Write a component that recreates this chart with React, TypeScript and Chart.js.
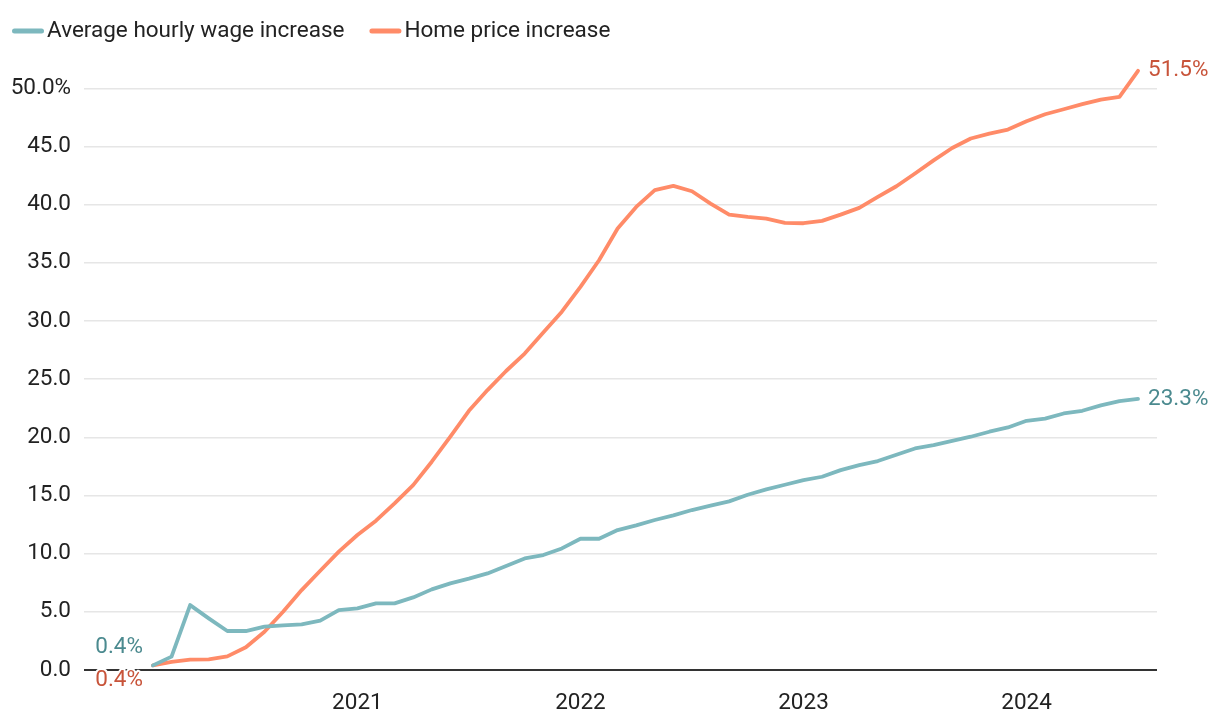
import { useEffect, useRef } from 'react';
import { Chart, registerables } from 'chart.js';

Chart.register(...registerables);

const months = [
  '2020-02', '2020-03', '2020-04', '2020-05', '2020-06', '2020-07', '2020-08', '2020-09', '2020-10', '2020-11', '2020-12',
  '2021-01', '2021-02', '2021-03', '2021-04', '2021-05', '2021-06', '2021-07', '2021-08', '2021-09', '2021-10', '2021-11', '2021-12',
  '2022-01', '2022-02', '2022-03', '2022-04', '2022-05', '2022-06', '2022-07', '2022-08', '2022-09', '2022-10', '2022-11', '2022-12',
  '2023-01', '2023-02', '2023-03', '2023-04', '2023-05', '2023-06', '2023-07', '2023-08', '2023-09', '2023-10', '2023-11', '2023-12',
  '2024-01', '2024-02', '2024-03', '2024-04', '2024-05', '2024-06', '2024-07',
];

const seriesNames = ['Average hourly wage increase', 'Home price increase'];

const wage = [
  0.4, 1.15, 5.58, 4.44, 3.35, 3.35, 3.72, 3.84, 3.92, 4.24, 5.15,
  5.3, 5.73, 5.73, 6.24, 6.93, 7.45, 7.85, 8.3, 8.93, 9.59, 9.88, 10.45,
  11.28, 11.28, 12.03, 12.43, 12.89, 13.29, 13.75, 14.12, 14.49, 15.06, 15.52, 15.92,
  16.32, 16.61, 17.18, 17.61, 17.96, 18.5, 19.04, 19.33, 19.7, 20.05, 20.48, 20.85,
  21.42, 21.6, 22.05, 22.28, 22.74, 23.11, 23.3,
];

const home = [
  0.4, 0.69, 0.89, 0.92, 1.17, 1.95, 3.29, 5.01, 6.87, 8.53, 10.17,
  11.6, 12.83, 14.32, 15.89, 17.9, 20.05, 22.28, 24.06, 25.7, 27.2, 29.0, 30.8,
  32.93, 35.22, 37.94, 39.8, 41.24, 41.61, 41.15, 40.09, 39.14, 38.94, 38.8, 38.43,
  38.4, 38.6, 39.14, 39.72, 40.66, 41.58, 42.67, 43.8, 44.87, 45.68, 46.1, 46.45,
  47.16, 47.77, 48.2, 48.63, 49.03, 49.26, 51.5,
];

const yTicks = [0, 5, 10, 15, 20, 25, 30, 35, 40, 45, 50];

const FONT = 'Roboto, sans-serif';
const FONT_SIZE = 22.5;
const TEXT = '#222222';
const TEAL = '#7db8be';
const TEAL_TEXT = '#4b8a8f';
const ORANGE = '#ff8b68';
const ORANGE_TEXT = '#c8543a';

const lineColors = [TEAL, ORANGE];
const labelColors = [TEAL_TEXT, ORANGE_TEXT];

const yearTickIdx = months
  .map((m, i) => (m.endsWith('-01') ? i : -1))
  .filter((i) => i >= 0);

const labelsPlugin = {
  id: 'customLabels',
  afterDraw(chart: any) {
    const ctx: CanvasRenderingContext2D = chart.ctx;
    ctx.save();
    ctx.font = `${FONT_SIZE}px ${FONT}`;
    ctx.textBaseline = 'middle';

    // legend
    let x = 12;
    const ly = 31;
    seriesNames.forEach((name, i) => {
      ctx.strokeStyle = lineColors[i];
      ctx.lineWidth = 5;
      ctx.lineCap = 'round';
      ctx.beginPath();
      ctx.moveTo(x + 2.5, ly);
      ctx.lineTo(x + 29.5, ly);
      ctx.stroke();
      ctx.fillStyle = TEXT;
      ctx.textAlign = 'left';
      const tx = x + 35;
      ctx.fillText(name, tx, ly);
      x = tx + ctx.measureText(name).width + 25;
    });

    // end and start labels
    chart.data.datasets.forEach((ds: any, i: number) => {
      const meta = chart.getDatasetMeta(i);
      const pts = meta.data;
      const last = pts[pts.length - 1];
      const first = pts[0];
      const vals = i === 0 ? wage : home;
      ctx.fillStyle = labelColors[i];
      ctx.textAlign = 'left';
      ctx.fillText(vals[vals.length - 1].toFixed(1) + '%', last.x + 10, last.y);

      ctx.textAlign = 'right';
      const sy = i === 0 ? first.y - 18 : first.y + 15;
      const txt = vals[0].toFixed(1) + '%';
      ctx.strokeStyle = '#ffffff';
      ctx.lineWidth = 4;
      ctx.lineJoin = 'round';
      ctx.strokeText(txt, first.x - 10, sy);
      ctx.fillText(txt, first.x - 10, sy);
    });
    ctx.restore();
  },
};

export default function App() {
  const ref = useRef<HTMLCanvasElement>(null);

  useEffect(() => {
    if (!ref.current) return;
    const mk = (vals: number[], i: number) => ({
      label: seriesNames[i],
      data: vals.map((v, k) => ({ x: k, y: v })),
      borderColor: lineColors[i],
      backgroundColor: lineColors[i],
      borderWidth: 3.8,
      pointRadius: 0,
      pointHoverRadius: 0,
      tension: 0,
      borderCapStyle: 'round' as const,
      borderJoinStyle: 'round' as const,
      fill: false,
    });
    const chart = new Chart(ref.current, {
      type: 'line',
      data: { datasets: [mk(wage, 0), mk(home, 1)] },
      options: {
        responsive: false,
        animation: false,
        devicePixelRatio: 1,
        layout: { padding: { top: 65, right: 63, bottom: 0, left: 0 } },
        plugins: {
          legend: { display: false },
          tooltip: { enabled: false },
        },
        scales: {
          x: {
            type: 'linear',
            min: -3.71,
            max: 54.02,
            grid: { display: false },
            border: { display: false },
            afterBuildTicks: (s: any) => {
              s.ticks = yearTickIdx.map((v) => ({ value: v }));
            },
            afterFit: (s: any) => {
              s.height = 52;
            },
            ticks: {
              autoSkip: false,
              maxRotation: 0,
              padding: 12,
              color: TEXT,
              font: { family: FONT, size: FONT_SIZE },
              callback: (v: any) => {
                const m = months[Math.round(Number(v))];
                return m ? m.slice(0, 4) : '';
              },
            },
          },
          y: {
            min: 0,
            max: 52,
            afterBuildTicks: (s: any) => {
              s.ticks = yTicks.map((v) => ({ value: v }));
            },
            afterFit: (s: any) => {
              s.width = 84;
            },
            border: { display: false },
            grid: {
              drawTicks: false,
              color: (c: any) => (c.tick && c.tick.value === 0 ? '#333333' : '#e6e6e6'),
              lineWidth: (c: any) => (c.tick && c.tick.value === 0 ? 2 : 1.5),
            },
            ticks: {
              padding: 13,
              color: TEXT,
              font: { family: FONT, size: FONT_SIZE },
              callback: (v: any) => (Number(v) === 50 ? '50.0%' : Number(v).toFixed(1)),
            },
          },
        },
      },
      plugins: [labelsPlugin],
    });
    return () => chart.destroy();
  }, []);

  return (
    <div style={{ position: 'fixed', left: 0, top: 0, width: 1220, height: 722, background: '#fff' }}>
      <canvas ref={ref} width={1220} height={722} style={{ display: 'block' }} />
    </div>
  );
}
